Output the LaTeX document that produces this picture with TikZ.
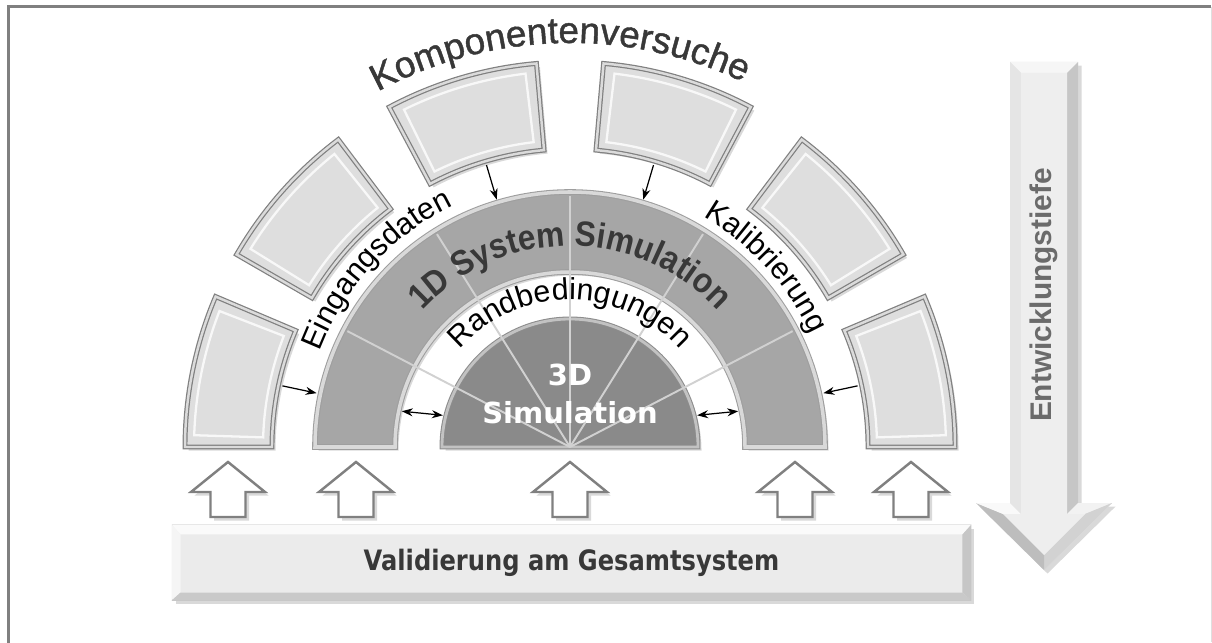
\documentclass[tikz,border=0pt]{standalone}
\usepackage{fontspec}
\setmainfont{Liberation Sans}
\newfontfamily\verdfont{DejaVu Sans}
\newfontfamily\narrowfont[FakeStretch=0.86]{DejaVu Sans}
\newfontfamily\heavyfont[FakeBold=1.2]{Liberation Sans}
\newfontfamily\simfamily[FakeStretch=0.9]{Liberation Sans}
\usetikzlibrary{arrows.meta,calc,decorations.text,shadows}
\definecolor{framegray}{gray}{0.50}
\definecolor{rimgray}{gray}{0.50}
\definecolor{rimlight}{gray}{0.86}
\definecolor{boxfill}{gray}{0.87}
\definecolor{ringfill}{gray}{0.65}
\definecolor{ringedge}{gray}{0.62}
\definecolor{ringrim}{gray}{0.85}
\definecolor{corefill}{gray}{0.54}
\definecolor{coreedge}{gray}{0.55}
\definecolor{corerim}{gray}{0.76}
\definecolor{spokegray}{gray}{0.82}
\definecolor{textdark}{gray}{0.22}
\definecolor{depthgray}{gray}{0.42}
\newcommand\komfont{\heavyfont\fontsize{21}{24}\selectfont\color{textdark}}
\newcommand\labfont{\fontsize{17.3}{20}\selectfont\color{black}}
\newcommand\simfont{\simfamily\bfseries\fontsize{20}{23}\selectfont\color{textdark}}
\tikzset{
  shade3d/.style={
    drop shadow={shadow xshift=2pt,shadow yshift=-2pt,opacity=.3}
  },
  frame/.style={
    framegray,
    line width=2pt
  },
  segment/.style={
    shade3d,
    fill=boxfill,
    draw=rimgray,
    line width=.7pt,
    double=rimlight,
    double distance=1.4pt
  },
  ring/.style={
    shade3d,
    fill=ringfill,
    draw=ringedge,
    line width=.6pt,
    double=ringrim,
    double distance=2pt
  },
  core/.style={
    shade3d,
    fill=corefill,
    draw=coreedge,
    line width=.6pt,
    double=corerim,
    double distance=1.6pt
  },
  spoke/.style={
    spokegray,
    line width=1.1pt
  },
  feed/.style={
    -{Stealth[length=2.2mm,width=1.6mm]},
    line width=.7pt
  },
  swap/.style={
    {Stealth[length=2.2mm,width=1.6mm]}-{Stealth[length=2.2mm,width=1.6mm]},
    line width=.7pt
  },
  uparrow/.style={
    shade3d,
    draw=rimgray,
    fill=white,
    line width=1.4pt,
    line join=miter
  },
  coretext/.style={
    align=center,
    text=white,
    font=\verdfont\bfseries\fontsize{16.5}{21.5}\selectfont
  },
  valbar/.style={
    shade3d,
    fill=gray!16,
    draw=gray!45,
    line width=.6pt,
    minimum width=15.98cm,
    minimum height=1.5cm,
    text=textdark,
    font=\narrowfont\bfseries\fontsize{16}{19}\selectfont
  },
  depthtext/.style={
    text=depthgray,
    font=\bfseries\fontsize{17}{20}\selectfont
  }
}
\begin{document}
\begin{tikzpicture}[x=0.02cm,y=0.02cm]
\useasboundingbox (0,0) rectangle (1212,642);
\coordinate (o) at (570,195);
% Rahmen
\draw[frame] (8.7,-5) -- (8.7,635.3) -- (1210.8,635.3);
\draw[gray!25,line width=.6pt] (1211.4,0) -- (1211.4,635.3);

% aeussere Segmente
\foreach \a [evaluate=\a as \b using \a+23] in {0,30,62,95,127,157}{
  \draw[segment] ([shift={(o)}]\a:298) arc[start angle=\a,end angle=\b,radius=298]
    -- ([shift={(o)}]\b:385) arc[start angle=\b,end angle=\a,radius=385] -- cycle;
}
\foreach \a [evaluate=\a as \b using \a+21.2,evaluate=\a as \c using \a+1.8] in {0,30,62,95,127,157}{
  \draw[white,line width=1.3pt,opacity=.8] ([shift={(o)}]\c:307) arc[start angle=\c,end angle=\b,radius=307]
    -- ([shift={(o)}]\b:376) arc[start angle=\b,end angle=\c,radius=376] -- cycle;
}

% 1D-Ring und 3D-Kern
\draw[ring] ([shift={(o)}]0:255) arc[start angle=0,end angle=180,radius=255]
  -- ([shift={(o)}]180:175) arc[start angle=180,end angle=0,radius=175] -- cycle;
\draw[core] ([shift={(o)}]0:128) arc[start angle=0,end angle=180,radius=128] -- cycle;
\foreach \s in {27.5,58,90,122,152.5}
  \draw[spoke] (o) -- ([shift={(o)}]\s:251);

% Beschriftungen entlang der Boegen
\path[decorate,decoration={text along path,text align=center,
  text={|\komfont|Komponentenversuche}}]
  ([shift={(o)}]151.5:404) arc[start angle=151.5,end angle=31.5,radius=404];
\path[decorate,decoration={text along path,text align=center,
  text={|\labfont|Eingangsdaten}}]
  ([shift={(o)}]182.5:268) arc[start angle=182.5,end angle=92.5,radius=268];
\path[decorate,decoration={text along path,text align=center,
  text={|\labfont|Kalibrierung}}]
  ([shift={(o)}]87.5:266) arc[start angle=87.5,end angle=-2.5,radius=266];
\path[decorate,decoration={text along path,text align=center,
  text={|\simfont|1D System Simulation}}]
  ([shift={(o)}]150:201) arc[start angle=150,end angle=30,radius=201];
\path[decorate,decoration={text along path,text align=center,
  text={|\labfont|Randbedingungen}}]
  ([shift={(o)}]160:147) arc[start angle=160,end angle=20,radius=147];
\node[coretext] (sim3d) at (570,248) {3D\\Simulation};

% Pfeile zwischen den Ebenen
\coordinate (seg1) at ([shift={(o)}]168:294);
\coordinate (seg3) at ([shift={(o)}]106.5:294);
\coordinate (seg4) at ([shift={(o)}]73.5:294);
\coordinate (seg6) at ([shift={(o)}]12:294);
\coordinate (ring1) at ([shift={(o)}]168:259);
\coordinate (ring3) at ([shift={(o)}]106.5:258);
\coordinate (ring4) at ([shift={(o)}]73.5:258);
\coordinate (ring6) at ([shift={(o)}]12:259);
\coordinate (inl) at ([shift={(o)}]168:172);
\coordinate (inr) at ([shift={(o)}]12:172);
\coordinate (cl) at ([shift={(o)}]166:131);
\coordinate (cr) at ([shift={(o)}]14:131);
\draw[feed] (seg1) -- (ring1);
\draw[feed] (seg3) -- (ring3);
\draw[feed] (seg4) -- (ring4);
\draw[feed] (seg6) -- (ring6);
\draw[swap] (inl) -- (cl);
\draw[swap] (inr) -- (cr);

% Validierung
\foreach \x in {228,356,570,795,911}
  \draw[uparrow] (\x-17.5,125) -- (\x-17.5,150) -- (\x-37,150) -- (\x,180)
    -- (\x+37,150) -- (\x+17.5,150) -- (\x+17.5,125) -- cycle;
\node[valbar] (val) at (571.5,79.5) {Validierung am Gesamtsystem};
\fill[gray!4] (val.north west) -- (val.north east) -- ($(val.north east)+(-9,-10)$) -- ($(val.north west)+(9,-10)$) -- cycle;
\fill[gray!8] (val.north west) -- ($(val.north west)+(9,-10)$) -- ($(val.south west)+(9,8)$) -- (val.south west) -- cycle;
\fill[gray!42] (val.south west) -- ($(val.south west)+(9,8)$) -- ($(val.south east)+(-9,8)$) -- (val.south east) -- cycle;
\fill[gray!45] (val.south east) -- ($(val.south east)+(-9,8)$) -- ($(val.north east)+(-9,-10)$) -- (val.north east) -- cycle;

% Entwicklungstiefe
\fill[shade3d,gray!20] (1010,580) -- (1078,580) -- (1078,139) -- (1112,139) -- (1044,72) -- (976,139) -- (1010,139) -- cycle;
\fill[gray!7] (1010,580) -- (1078,580) -- (1067,569) -- (1021,569) -- cycle;
\fill[gray!45] (1078,580) -- (1078,139) -- (1067,128) -- (1067,569) -- cycle;
\fill[gray!10] (1078,139) -- (1112,139) -- (1085,128) -- (1067,128) -- cycle;
\fill[gray!35] (1112,139) -- (1044,72) -- (1044,87) -- (1085,128) -- cycle;
\fill[gray!52] (1044,72) -- (976,139) -- (1003,128) -- (1044,87) -- cycle;
\fill[gray!5] (976,139) -- (1010,139) -- (1021,128) -- (1003,128) -- cycle;
\fill[gray!20] (1010,139) -- (1010,580) -- (1021,569) -- (1021,128) -- cycle;
\fill[gray!13] (1021,569) -- (1067,569) -- (1067,128) -- (1085,128) -- (1044,87) -- (1003,128) -- (1021,128) -- cycle;
\node[depthtext,rotate=90] (depth) at (1044,347) {Entwicklungstiefe};
\end{tikzpicture}
\end{document}
